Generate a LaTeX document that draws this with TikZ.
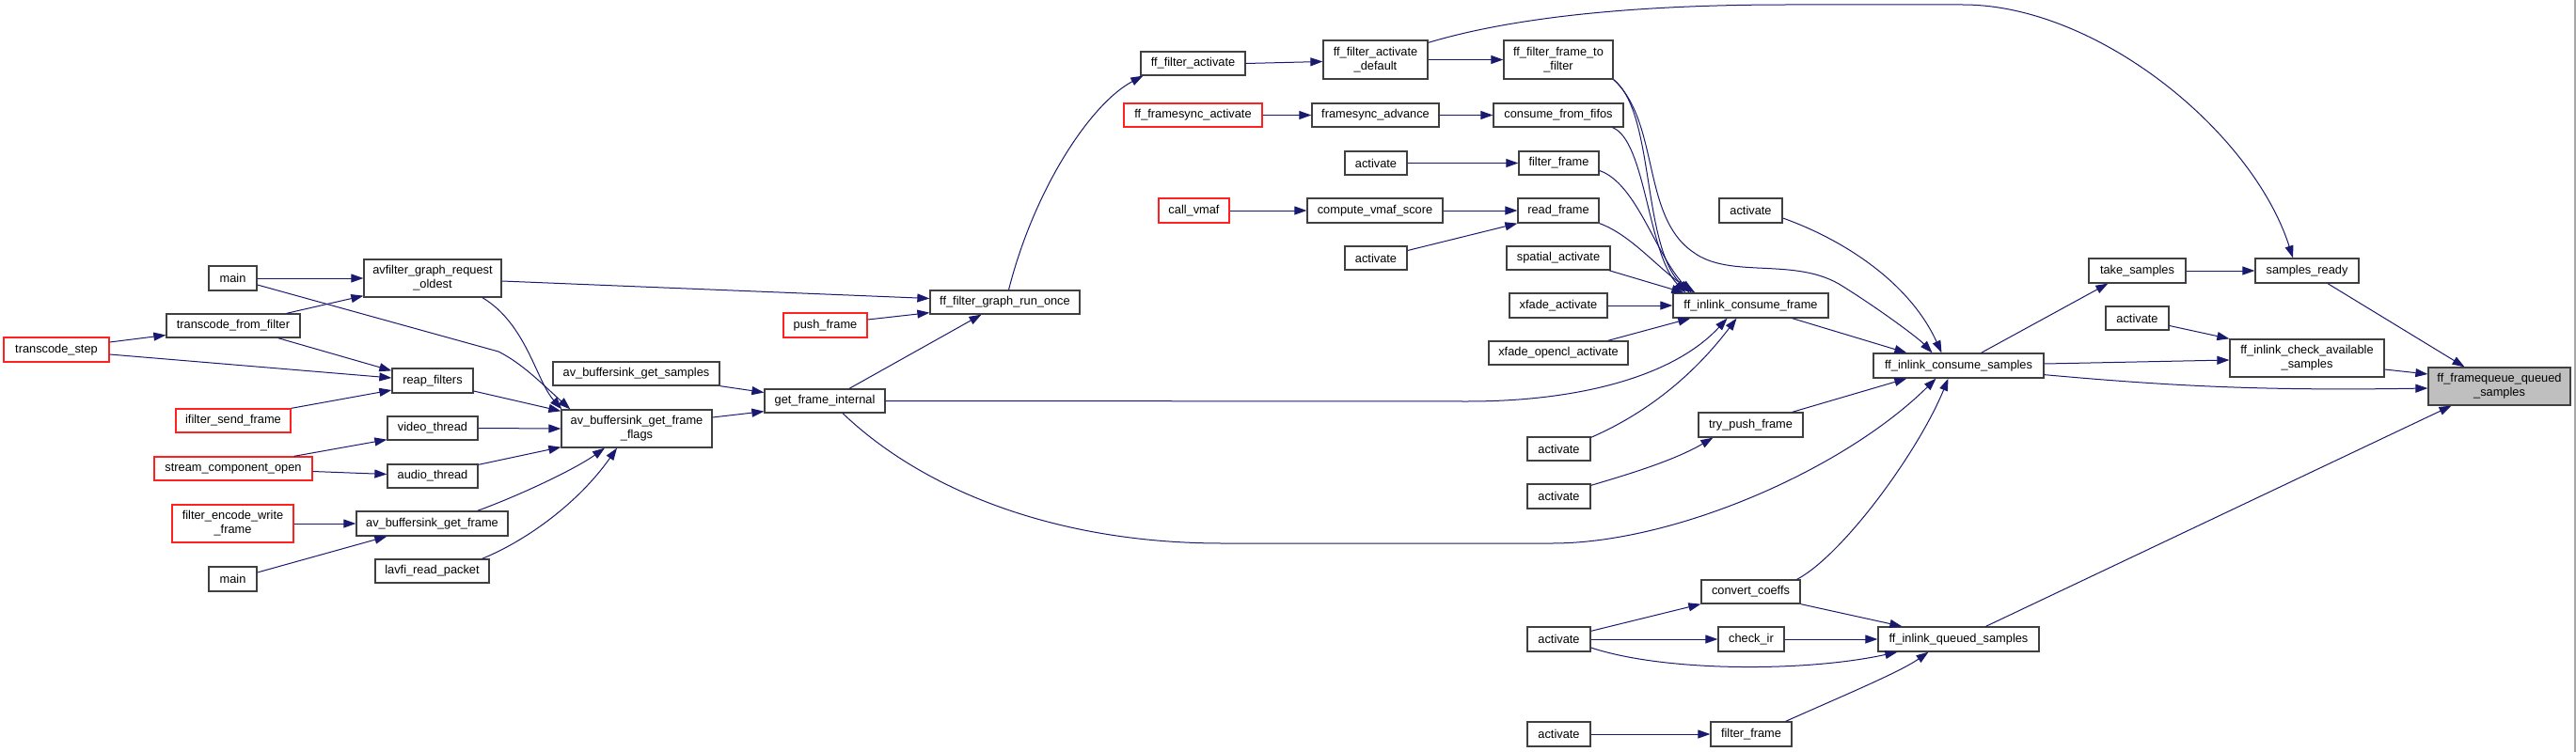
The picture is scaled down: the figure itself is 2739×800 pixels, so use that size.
\documentclass[tikz,border=0pt]{standalone}
\usepackage{fontspec}
\setmainfont{Liberation Sans}
\usetikzlibrary{arrows.meta,calc}
\definecolor{edgeblue}{HTML}{191970}
\definecolor{boxgray}{HTML}{404040}
\definecolor{redline}{HTML}{FF2020}
\definecolor{mainfill}{HTML}{BFBFBF}
\definecolor{framegray}{HTML}{A8A8A8}
\newcommand\mynode[7]{\node[#1,minimum width=#5pt,minimum height=#6pt] (#2) at (#3,#4) {#7};}
\begin{document}
\begin{tikzpicture}[x=1pt,y=-1pt,
 box/.style={draw=boxgray,line width=1.3pt,fill=white,inner sep=0pt,align=center,font=\fontsize{12.8}{15}\selectfont},
 redbox/.style={box,draw=redline},
 mainbox/.style={box,fill=mainfill},
 edge/.style={draw=edgeblue,line width=1pt,-{Triangle[length=13pt,width=9pt]}}]
\fill[white] (0,0) rectangle (2739,800);
\useasboundingbox (0,0) rectangle (2739,800);
\draw[framegray,line width=1.5pt] (2738,0) -- (2738,800);

\mynode{box}{main1}{247.5}{296}{51}{26}{main}
\mynode{box}{agro}{460}{296}{146}{40}{avfilter\_graph\_request\\\_oldest}
\mynode{box}{tff}{248}{346.5}{142}{25}{transcode\_from\_filter}
\mynode{redbox}{ts}{60}{372}{112}{26}{transcode\_step}
\mynode{box}{reap}{460}{405}{86}{26}{reap\_filters}
\mynode{redbox}{isf}{248}{447.5}{122}{25}{ifilter\_send\_frame}
\mynode{box}{vt}{460}{455.5}{96}{25}{video\_thread}
\mynode{box}{abgff}{677}{456}{160}{40}{av\_buffersink\_get\_frame\\\_flags}
\mynode{redbox}{sco}{248}{498.5}{168}{25}{stream\_component\_open}
\mynode{box}{audt}{460}{506.5}{96}{25}{audio\_thread}
\mynode{redbox}{fewf}{247.5}{557}{129}{40}{filter\_encode\_write\\\_frame}
\mynode{box}{abgf}{459.5}{557}{161}{26}{av\_buffersink\_get\_frame}
\mynode{box}{main2}{247.5}{616}{51}{26}{main}
\mynode{box}{lrp}{459.5}{607.5}{121}{25}{lavfi\_read\_packet}
\mynode{box}{abgs}{676.5}{397.5}{177}{25}{av\_buffersink\_get\_samples}
\mynode{box}{gfi}{877}{426.5}{128}{25}{get\_frame\_internal}
\mynode{box}{fgro}{1068.5}{321.5}{159}{25}{ff\_filter\_graph\_run\_once}
\mynode{redbox}{pf}{877.5}{346}{89}{26}{push\_frame}
\mynode{box}{ffa}{1268.5}{67.5}{111}{25}{ff\_filter\_activate}
\mynode{box}{ffad}{1462.5}{63.5}{111}{41}{ff\_filter\_activate\\\_default}
\mynode{box}{fff2f}{1657}{63.5}{116}{41}{ff\_filter\_frame\_to\\\_filter}
\mynode{redbox}{ffsa}{1268.5}{122.5}{147}{25}{ff\_framesync\_activate}
\mynode{box}{fsa}{1462.5}{122.5}{135}{25}{framesync\_advance}
\mynode{box}{cff}{1657}{122.5}{138}{25}{consume\_from\_fifos}
\mynode{box}{act1}{1463}{173.5}{66}{25}{activate}
\mynode{box}{ffr1}{1657.5}{173.5}{85}{25}{filter\_frame}
\mynode{redbox}{cv}{1269.5}{224}{75}{26}{call\_vmaf}
\mynode{box}{cvs}{1462}{224}{144}{26}{compute\_vmaf\_score}
\mynode{box}{rf}{1657}{224}{86}{26}{read\_frame}
\mynode{box}{act2}{1463}{274.5}{66}{25}{activate}
\mynode{box}{sa}{1657}{274.5}{110}{25}{spatial\_activate}
\mynode{box}{xa}{1657}{325}{104}{26}{xfade\_activate}
\mynode{box}{xoa}{1657}{375.5}{148}{25}{xfade\_opencl\_activate}
\mynode{box}{icf}{1861.5}{325}{165}{26}{ff\_inlink\_consume\_frame}
\mynode{box}{act3}{1861.5}{224}{67}{26}{activate}
\mynode{box}{act4}{1657.5}{477.5}{67}{25}{activate}
\mynode{box}{tpf}{1861.5}{452}{111}{26}{try\_push\_frame}
\mynode{box}{act5}{1657.5}{528}{67}{26}{activate}
\mynode{box}{cc}{1861.5}{629.5}{105}{25}{convert\_coeffs}
\mynode{box}{act6}{1657.5}{680}{67}{26}{activate}
\mynode{box}{ci}{1862}{680}{70}{26}{check\_ir}
\mynode{box}{act7}{1657.5}{781}{67}{26}{activate}
\mynode{box}{ffr2}{1862}{781}{86}{26}{filter\_frame}
\mynode{box}{tks}{2272.5}{288}{103}{26}{take\_samples}
\mynode{box}{sr}{2453}{288}{110}{26}{samples\_ready}
\mynode{box}{act8}{2272.5}{338.5}{67}{25}{activate}
\mynode{box}{icas}{2453}{381}{164}{40}{ff\_inlink\_check\_available\\\_samples}
\mynode{box}{ics}{2082.5}{389}{181}{26}{ff\_inlink\_consume\_samples}
\mynode{mainbox}{fqqs}{2657.5}{411}{151}{40}{ff\_framequeue\_queued\\\_samples}
\mynode{box}{iqs}{2082.5}{680}{171}{26}{ff\_inlink\_queued\_samples}

% left part
\draw[edge] (main1.east) -- (agro.west);
\draw[edge] ($(main1.east)+(0,7)$) -- (530,374) .. controls (556,387) and (578,410) .. ($(abgff.north west)+(10,0)$);
\draw[edge] ($(tff.north east)+(-15,0)$) -- ($(agro.south west)+(0,-2)$);
\draw[edge] ($(tff.south east)+(-24,0)$) -- ($(reap.north west)+(0,3)$);
\draw[edge] ($(ts.east)+(0,-8)$) -- ($(tff.west)+(0,10)$);
\draw[edge] ($(ts.east)+(0,5)$) -- ($(reap.west)+(0,-3)$);
\draw[edge] (isf.north east) -- ($(reap.west)+(0,10)$);
\draw[edge] ($(reap.east)+(0,11)$) -- ($(abgff.north west)+(0,2)$);
\draw[edge] (vt.east) -- (abgff.west);
\draw[edge] ($(sco.north east)+(-20,0)$) -- ($(vt.south west)+(0,-1)$);
\draw[edge] ($(sco.east)+(0,3)$) -- ($(audt.west)+(0,-2)$);
\draw[edge] ($(audt.north east)+(0,1)$) -- ($(abgff.south west)+(0,-1)$);
\draw[edge] (fewf.east) -- (abgf.west);
\draw[edge] ($(main2.east)+(0,-7)$) -- ($(abgf.south west)+(33,0)$);
\draw[edge] ($(abgf.north east)+(-33,0)$) .. controls (550,528) and (610,500) .. ($(abgff.south)+(-34,0)$);
\draw[edge] ($(lrp.north east)+(-8,0)$) .. controls (560,575) and (615,535) .. ($(abgff.south)+(-21,0)$);
\draw[edge] ($(agro.south)+(53,0)$) .. controls (560,345) and (570,405) .. ($(abgff.north west)+(1,0)$);
\draw[edge] ($(agro.east)+(0,3)$) -- ($(fgro.west)+(0,-4)$);
\draw[edge] (abgs.south east) -- ($(gfi.west)+(0,-9)$);
\draw[edge] ($(abgff.east)+(0,-12)$) -- ($(gfi.south west)+(0,-2)$);
\draw[edge] ($(pf.east)+(0,-6)$) -- ($(fgro.south west)+(0,-2)$);
\draw[edge] ($(gfi.north)+(26,0)$) -- ($(fgro.south)+(-25,0)$);
\draw[edge] ($(fgro.north)+(4,0)$) .. controls (1100,200) and (1160,110) .. ($(ffa.south west)+(3,0)$);

% top middle
\draw[edge] (ffa.east) -- ($(ffad.west)+(0,2)$);
\draw[edge] (ffad.east) -- (fff2f.west);
\draw[edge] ($(ffad.north east)+(0,3)$) .. controls (1620,15) and (1760,5) .. (1900,5) -- (2087,5) .. controls (2230,5) and (2395,140) .. ($(sr.north)+(-15,0)$);
\draw[edge] (fff2f.south east) .. controls (1760,120) and (1745,260) .. ($(icf.north west)+(18,0)$);
\draw[edge] (fff2f.south east) .. controls (1765,130) and (1745,230) .. (1800,268) .. controls (1840,298) and (1910,272) .. (1960,305) .. controls (2000,330) and (2040,360) .. ($(ics.north)+(-28,0)$);
\draw[edge] (ffsa.east) -- (fsa.west);
\draw[edge] (fsa.east) -- (cff.west);
\draw[edge] ($(cff.south east)+(-12,0)$) .. controls (1750,150) and (1752,270) .. ($(icf.north west)+(14,0)$);
\draw[edge] (act1.east) -- (ffr1.west);
\draw[edge] ($(ffr1.east)+(0,8)$) .. controls (1740,195) and (1760,270) .. ($(icf.north west)+(20,0)$);
\draw[edge] (cv.east) -- (cvs.west);
\draw[edge] (cvs.east) -- (rf.west);
\draw[edge] ($(act2.east)+(0,-8)$) -- (rf.south west);
\draw[edge] (rf.south east) .. controls (1735,250) and (1765,288) .. ($(icf.north west)+(24,0)$);
\draw[edge] ($(sa.south east)+(-2,0)$) -- ($(icf.north west)+(12,0)$);
\draw[edge] (xa.east) -- (icf.west);
\draw[edge] ($(xoa.north east)+(-22,0)$) -- ($(icf.south west)+(19,0)$);
\draw[edge] (gfi.east) -- (1560,427) .. controls (1680,427) and (1780,400) .. ($(icf.south)+(-25,0)$);
\draw[edge] ($(act4.north east)+(0,1)$) .. controls (1750,440) and (1800,400) .. ($(icf.south)+(-15,0)$);

% into ff_inlink_consume_samples
\draw[edge] ($(act3.east)+(0,8)$) .. controls (1960,255) and (2030,300) .. ($(ics.north)+(-18,0)$);
\draw[edge] ($(icf.south east)+(-39,0)$) -- ($(ics.north west)+(36,0)$);
\draw[edge] ($(tpf.north east)+(-12,0)$) -- ($(ics.south west)+(36,0)$);
\draw[edge] ($(gfi.south)+(19,0)$) .. controls (980,520) and (1120,578) .. (1300,578) -- (1650,578) .. controls (1780,578) and (1960,500) .. ($(ics.south)+(-24,0)$);
\draw[edge] ($(cc.north east)+(-4,0)$) .. controls (1960,590) and (2040,480) .. ($(ics.south)+(-11,0)$);
\draw[edge] ($(act5.north east)+(0,2)$) .. controls (1730,505) and (1780,490) .. ($(tpf.south west)+(16,0)$);

% right part
\draw[edge] ($(ics.north)+(24,0)$) -- ($(tks.south west)+(21,0)$);
\draw[edge] ($(ics.east)+(0,-2)$) -- ($(icas.west)+(0,2)$);
\draw[edge] ($(ics.south east)+(0,-4)$) .. controls (2300,410) and (2400,416) .. ($(fqqs.west)+(0,2)$);
\draw[edge] (tks.east) -- (sr.west);
\draw[edge] ($(act8.east)+(0,8)$) -- (icas.north west);
\draw[edge] ($(sr.south)+(22,0)$) -- ($(fqqs.north)+(-37,0)$);
\draw[edge] ($(icas.east)+(0,12)$) -- ($(fqqs.west)+(0,-13)$);
\draw[edge] ($(iqs.north)+(29,0)$) -- ($(fqqs.south)+(-51,0)$);

% bottom
\draw[edge] (cc.south east) -- ($(iqs.north west)+(26,0)$);
\draw[edge] (ci.east) -- (iqs.west);
\draw[edge] ($(act6.east)+(0,9)$) .. controls (1770,715) and (1920,715) .. ($(iqs.south west)+(21,0)$);
\draw[edge] ($(act6.north east)+(0,5)$) -- (cc.south west);
\draw[edge] (act6.east) -- (ci.west);
\draw[edge] (act7.east) -- (ffr2.west);
\draw[edge] ($(ffr2.north east)+(-7,0)$) .. controls (1960,740) and (2020,715) .. ($(iqs.south)+(-32,0)$);
\end{tikzpicture}
\end{document}
